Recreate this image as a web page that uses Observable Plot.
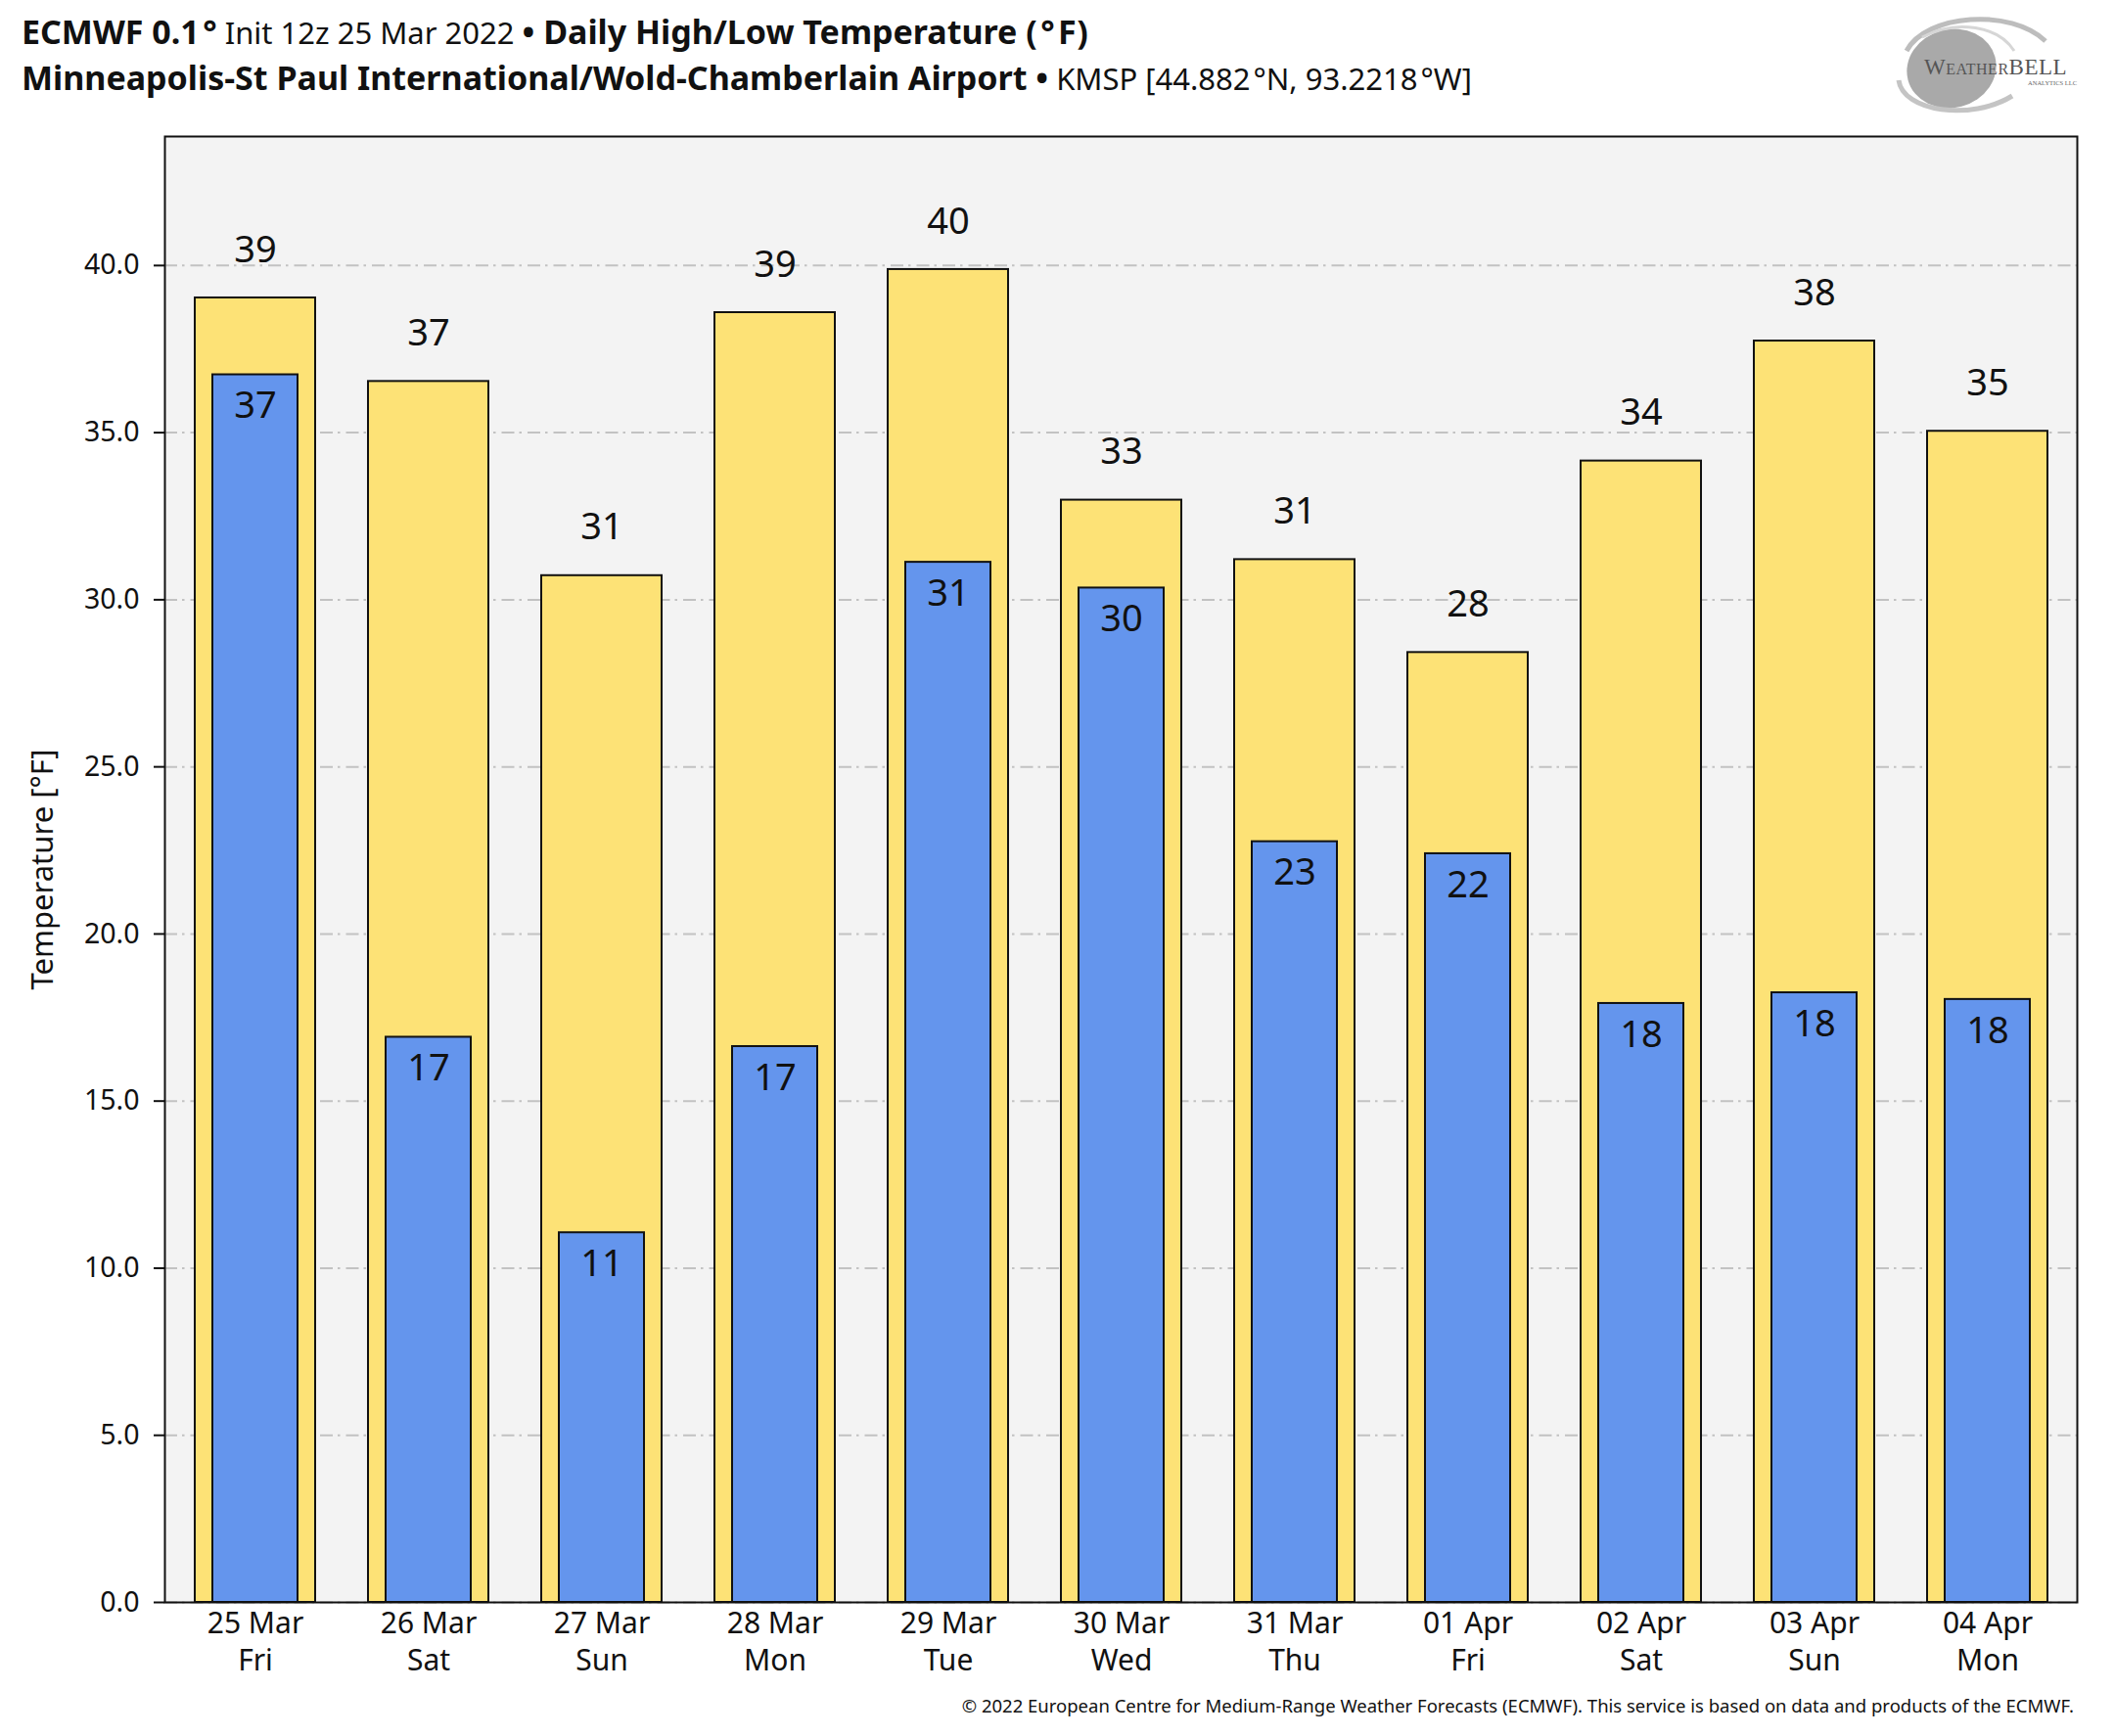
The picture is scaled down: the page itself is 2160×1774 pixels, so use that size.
<!DOCTYPE html>
<html>
<head>
<meta charset="utf-8">
<script src="https://cdn.jsdelivr.net/npm/d3@7"></script>
<script src="https://cdn.jsdelivr.net/npm/@observablehq/plot@0.6"></script>
<style>
  body { margin: 0; background: #fff; font-family: "Noto Sans", sans-serif; color: #111; }
  #wrap { position: relative; width: 2160px; height: 1774px; overflow: hidden; }
  #header { position: relative; height: 110px; }
  .tl { position: absolute; left: 22px; font-size: 31px; line-height: 44px; white-space: nowrap; }
  .tl b { font-weight: 700; font-size: 34px; }
  #t1 { top: 10px; }
  #t2 { top: 57px; }
  #logo { position: absolute; left: 1930px; top: 10px; }
  #footer { position: absolute; right: 41px; top: 1731px; font-size: 18.5px; line-height: 24px; white-space: nowrap; color: #111; }
  svg { display: block; }
</style>
</head>
<body>
<div id="wrap">
  <div id="header">
    <div class="tl" id="t1"><b>ECMWF 0.1&#8202;°</b> Init 12z 25 Mar 2022 <b>• Daily High/Low Temperature (&#8202;°&#8202;F)</b></div>
    <div class="tl" id="t2"><b>Minneapolis-St Paul International/Wold-Chamberlain Airport •</b> KMSP [44.882&#8202;°N, 93.2218&#8202;°W]</div>
    <svg id="logo" width="220" height="112" viewBox="0 0 220 112">
      <ellipse cx="64" cy="60" rx="46" ry="40" fill="#a9a9a9" transform="rotate(-15 64 60)"/>
      <path d="M18,42 C38,4 125,-2 160,32" fill="none" stroke="#bdbdbd" stroke-width="5"/>
      <path d="M10,72 C14,104 84,114 126,88" fill="none" stroke="#c4c4c4" stroke-width="5"/>
      <path d="M34,28 C70,9 112,17 128,42" fill="none" stroke="#d6d6d6" stroke-width="3"/>
      <text x="36" y="66" font-family="Liberation Serif, serif" font-size="23" fill="#555" letter-spacing="0.5">W<tspan font-size="16">EATHER</tspan>BELL</text>
      <text x="142" y="77" font-family="Liberation Serif, serif" font-size="6.5" fill="#666">ANALYTICS LLC</text>
    </svg>
  </div>
  <div id="chart"></div>
  <div id="footer">© 2022 European Centre for Medium-Range Weather Forecasts (ECMWF). This service is based on data and products of the ECMWF.</div>
</div>
<script>
const dates = ["25 Mar", "26 Mar", "27 Mar", "28 Mar", "29 Mar", "30 Mar", "31 Mar", "01 Apr", "02 Apr", "03 Apr", "04 Apr"];
const weekdays = ["Fri", "Sat", "Sun", "Mon", "Tue", "Wed", "Thu", "Fri", "Sat", "Sun", "Mon"];
const highs = [39.03, 36.53, 30.72, 38.59, 39.88, 32.98, 31.20, 28.42, 34.15, 37.74, 35.04];
const lows = [36.73, 16.91, 11.06, 16.63, 31.12, 30.35, 22.76, 22.40, 17.92, 18.24, 18.04];
const yTicks = [0, 5, 10, 15, 20, 25, 30, 35, 40];
const yMax = 43.86;

const data = dates.map((d, i) => ({ day: d + "\n" + weekdays[i], high: highs[i], low: lows[i] }));

const chart = Plot.plot({
  width: 2160,
  height: 1627,
  marginTop: 29,
  marginBottom: 100,
  marginLeft: 168,
  marginRight: 38,
  style: { fontFamily: "Noto Sans", fontSize: "28px", color: "#111", background: "#fff" },
  x: { type: "band", domain: data.map(d => d.day), padding: 0, label: null },
  y: { domain: [0, yMax], label: null },
  marks: [
    Plot.frame({ fill: "#f3f3f3", stroke: "none" }),
    Plot.gridY(yTicks, { stroke: "#c2c2c2", strokeOpacity: 1, strokeWidth: 2, strokeDasharray: "13,5,2.5,6" }),
    Plot.barY(data, { x: "day", y: "high", fill: "#fde276", stroke: "#111", strokeWidth: 2, insetLeft: 27, insetRight: 27 }),
    Plot.barY(data, { x: "day", y: "low", fill: "#6495ed", stroke: "#111", strokeWidth: 2, insetLeft: 45, insetRight: 45 }),
    Plot.text(data, { x: "day", y: "high", text: d => d3.format(".0f")(d.high), dy: -49, fontSize: 38, fill: "#111" }),
    Plot.text(data, { x: "day", y: "low", text: d => d3.format(".0f")(d.low), dy: 32, fontSize: 38, fill: "#111" }),
    Plot.axisY(yTicks, { tickFormat: d3.format(".1f"), tickSize: 11, tickPadding: 15, fontSize: 28.5, strokeWidth: 2, label: null }),
    Plot.axisX({ tickSize: 0, tickPadding: 4, fontSize: 30, lineHeight: 1.27, label: null }),
    Plot.text(["Temperature [°F]"], { frameAnchor: "left", y: [yMax / 2], dx: -124, rotate: -90, textAnchor: "middle", lineAnchor: "middle", fontSize: 31, fill: "#111" }),
    Plot.frame({ stroke: "#111", strokeWidth: 2 })
  ]
});
document.getElementById("chart").appendChild(chart);
</script>
</body>
</html>
